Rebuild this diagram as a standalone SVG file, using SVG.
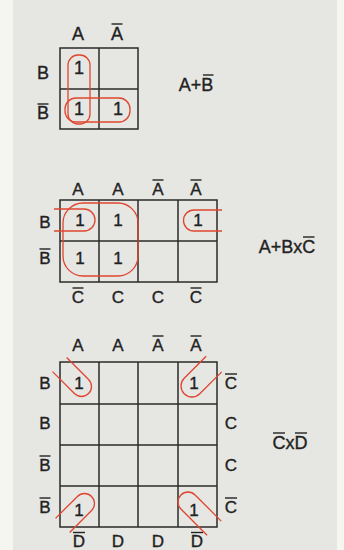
<svg xmlns="http://www.w3.org/2000/svg" width="344" height="550" viewBox="0 0 344 550">
<style>
.t{font-family:"Liberation Sans",Arial,sans-serif;font-size:17px;fill:#222;stroke:#222;stroke-width:0.35;text-anchor:middle}
.big{font-size:18px}
.g{fill:none;stroke:#2a2a2a;stroke-width:1.5}
.bar{stroke:#222;stroke-width:1.4}
.r{fill:none;stroke:#e0452f;stroke-width:1.3}
</style>
<defs>
<path id="u20" class="r" d="M-31,-10 H0 A10 10 0 0 1 0,10 H-31"/>
<path id="u22" class="r" d="M-31,-11 H0 A11 11 0 0 1 0,11 H-31"/>
<path id="u20l" class="r" d="M-37,-10 H0 A10 10 0 0 1 0,10 H-37"/>
</defs>
<rect x="0" y="0" width="344" height="550" fill="#f6f6f1"/>
<rect x="13" y="0" width="324" height="550" fill="#e6e6e3"/>

<g id="map1">
  <rect class="g" x="60" y="48" width="78" height="81"/>
  <line class="g" x1="99" y1="48" x2="99" y2="129"/>
  <line class="g" x1="60" y1="89" x2="138" y2="89"/>
  <text class="t big" x="78" y="40">A</text>
  <text class="t big" x="117" y="40">A</text>
  <line class="bar" x1="111.5" y1="24" x2="122.5" y2="24"/>
  <text class="t big" x="43" y="79">B</text>
  <text class="t big" x="43" y="119">B</text>
  <line class="bar" x1="37.5" y1="104" x2="48.5" y2="104"/>
  <text class="t big" x="79" y="74">1</text>
  <text class="t big" x="79" y="115">1</text>
  <text class="t big" x="118" y="115">1</text>
  <rect class="r" x="68" y="55" width="22" height="69" rx="10"/>
  <rect class="r" x="65" y="98" width="65" height="24" rx="11"/>
</g>
<g id="expr1">
  <text class="t big" x="196" y="91">A+B</text>
  <line class="bar" x1="203" y1="75" x2="213.5" y2="75"/>
</g>

<g id="map2">
  <rect class="g" x="60" y="200" width="157" height="82"/>
  <line class="g" x1="99" y1="200" x2="99" y2="282"/>
  <line class="g" x1="138" y1="200" x2="138" y2="282"/>
  <line class="g" x1="178" y1="200" x2="178" y2="282"/>
  <line class="g" x1="60" y1="241" x2="217" y2="241"/>
  <text class="t" x="78" y="195">A</text>
  <text class="t" x="118" y="195">A</text>
  <text class="t" x="158" y="195">A</text>
  <text class="t" x="196" y="195">A</text>
  <line class="bar" x1="152.5" y1="180" x2="163.5" y2="180"/>
  <line class="bar" x1="190.5" y1="180" x2="201.5" y2="180"/>
  <text class="t" x="45" y="228">B</text>
  <text class="t" x="45" y="264">B</text>
  <line class="bar" x1="39.5" y1="249" x2="50.5" y2="249"/>
  <text class="t" x="78" y="303">C</text>
  <text class="t" x="118" y="303">C</text>
  <text class="t" x="158" y="303">C</text>
  <text class="t" x="196" y="303">C</text>
  <line class="bar" x1="72.5" y1="288" x2="83.5" y2="288"/>
  <line class="bar" x1="190.5" y1="288" x2="201.5" y2="288"/>
  <text class="t" x="80" y="226">1</text>
  <text class="t" x="118" y="226">1</text>
  <text class="t" x="80" y="264">1</text>
  <text class="t" x="118" y="264">1</text>
  <text class="t" x="198" y="226">1</text>
  <rect class="r" x="63" y="203" width="75" height="73" rx="20"/>
  <path class="r" d="M54,209 H84 A11 11 0 0 1 84,231 H54"/>
  <path class="r" d="M222,210 H194 A10.5 10.5 0 0 0 194,231 H222"/>
</g>
<g id="expr2">
  <text class="t big" x="287" y="253">A+BxC</text>
  <line class="bar" x1="303" y1="237" x2="314.5" y2="237"/>
</g>

<g id="map3">
  <rect class="g" x="60" y="362" width="157" height="165"/>
  <line class="g" x1="99" y1="362" x2="99" y2="527"/>
  <line class="g" x1="138" y1="362" x2="138" y2="527"/>
  <line class="g" x1="178" y1="362" x2="178" y2="527"/>
  <line class="g" x1="60" y1="404" x2="217" y2="404"/>
  <line class="g" x1="60" y1="445" x2="217" y2="445"/>
  <line class="g" x1="60" y1="486" x2="217" y2="486"/>
  <text class="t" x="78" y="351">A</text>
  <text class="t" x="118" y="351">A</text>
  <text class="t" x="158" y="351">A</text>
  <text class="t" x="196" y="351">A</text>
  <line class="bar" x1="152.5" y1="336" x2="163.5" y2="336"/>
  <line class="bar" x1="190.5" y1="336" x2="201.5" y2="336"/>
  <text class="t" x="45" y="389">B</text>
  <text class="t" x="45" y="429">B</text>
  <text class="t" x="45" y="471">B</text>
  <text class="t" x="45" y="513">B</text>
  <line class="bar" x1="39.5" y1="456" x2="50.5" y2="456"/>
  <line class="bar" x1="39.5" y1="498" x2="50.5" y2="498"/>
  <text class="t" x="231" y="389">C</text>
  <text class="t" x="231" y="429">C</text>
  <text class="t" x="231" y="471">C</text>
  <text class="t" x="231" y="513">C</text>
  <line class="bar" x1="225" y1="374" x2="237" y2="374"/>
  <line class="bar" x1="225" y1="498" x2="237" y2="498"/>
  <text class="t" x="79" y="547">D</text>
  <text class="t" x="118" y="547">D</text>
  <text class="t" x="158" y="547">D</text>
  <text class="t" x="197" y="547">D</text>
  <line class="bar" x1="73" y1="532.5" x2="85" y2="532.5"/>
  <line class="bar" x1="191" y1="532.5" x2="203" y2="532.5"/>
  <text class="t" x="79" y="389">1</text>
  <text class="t" x="194" y="389">1</text>
  <text class="t" x="79" y="516">1</text>
  <text class="t" x="194" y="516">1</text>
  <use href="#u20" transform="translate(81.5,386.5) rotate(45)"/>
  <use href="#u22" transform="translate(192,386) rotate(135)"/>
  <use href="#u20" transform="translate(84.5,503.5) rotate(-45)"/>
  <use href="#u20l" transform="translate(188,502) rotate(-135)"/>
</g>
<g id="expr3">
  <text class="t big" x="290" y="449">CxD</text>
  <line class="bar" x1="273" y1="433" x2="285" y2="433"/>
  <line class="bar" x1="295" y1="433" x2="307" y2="433"/>
</g>
<g id="connectors"/>
</svg>
